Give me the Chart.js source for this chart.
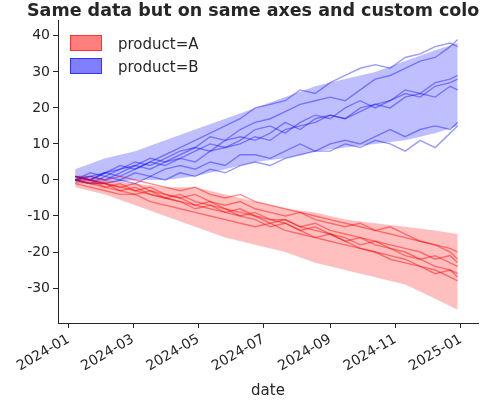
<!DOCTYPE html>
<html lang="en">
<head>
<meta charset="UTF-8">
<script src="https://cdn.jsdelivr.net/npm/chart.js"></script>
<style>
  body { margin: 0; background: #fff; font-family: "DejaVu Sans", sans-serif; }
  #wrap { position: relative; width: 480px; height: 400px; overflow: hidden; }
  #title { position: absolute; left: 27px; top: 0px; font-size: 17.5px; font-weight: bold; color: #262626; white-space: nowrap; }
  .leg { position: absolute; left: 70px; font-size: 15px; color: #262626; }
  .leg span { display: inline-block; width: 30px; height: 14px; vertical-align: -2px; margin-right: 16px; }
</style>
</head>
<body>
<div id="wrap">
  <canvas id="chart" width="480" height="400"></canvas>
  <div id="title">Same data but on same axes and custom colors</div>
  <div class="leg" style="top:35px"><span style="background:rgba(255,0,0,0.5);border:1px solid rgba(255,0,0,0.6)"></span>product=A</div>
  <div class="leg" style="top:58px"><span style="background:rgba(0,0,255,0.5);border:1px solid rgba(0,0,255,0.6)"></span>product=B</div>
</div>
<script>
// days since 2024-01-01
var lineDays = [6,20,34,48,62,76,90,104,118,132,146,160,174,188,202,216,230,244,258,272,286,300,314,328,342,356,363];
var bandDays = [6,34,62,90,118,146,174,202,230,258,286,314,342,363];

var linesB = [
  [0,1,2,4,3,5,7,9,11,13,15,17,20,21,22,25,24,27,29,31,32,31,34,35,37,38,37],
  [1,0,2,3,5,4,6,8,9,12,11,14,16,17,19,21,22,23,22,25,28,29,31,33,34,37,39],
  [0,2,1,3,4,6,5,7,9,8,11,12,11,13,16,14,17,18,17,20,21,22,25,24,27,28,29],
  [1,0,2,1,3,5,4,6,8,10,9,11,14,15,13,16,18,17,20,22,20,22,24,23,26,27,28],
  [0,1,0,2,4,3,5,6,5,8,9,10,12,11,14,15,16,18,17,19,21,20,23,24,23,26,25],
  [0,-1,1,0,2,1,3,4,3,5,4,7,7,6,8,10,8,10,11,10,12,14,12,14,15,14,16],
  [1,0,-1,0,-1,1,0,2,1,3,2,4,5,4,6,7,8,8,10,9,11,10,8,11,9,13,15]
];
var linesA = [
  [0,-1,-1,-2,-3,-2,-4,-5,-4,-6,-7,-6,-8,-9,-10,-9,-11,-12,-13,-12,-14,-15,-16,-17,-18,-19,-20],
  [1,0,-1,-2,-1,-3,-4,-5,-7,-6,-8,-9,-10,-11,-11,-13,-12,-14,-15,-16,-17,-18,-19,-20,-22,-21,-23],
  [0,-1,-2,-1,-3,-4,-5,-4,-6,-7,-8,-10,-9,-11,-12,-14,-13,-15,-16,-18,-17,-19,-20,-22,-21,-23,-24],
  [0,0,-2,-3,-4,-3,-5,-6,-7,-8,-9,-8,-10,-12,-11,-13,-14,-15,-17,-16,-18,-19,-21,-22,-24,-25,-26],
  [-1,-2,-3,-4,-4,-6,-7,-8,-9,-10,-11,-12,-13,-12,-14,-15,-16,-17,-18,-19,-20,-22,-23,-24,-26,-25,-27],
  [0,-1,-1,-3,-2,-4,-5,-6,-8,-7,-9,-10,-11,-13,-12,-14,-16,-15,-17,-19,-20,-21,-22,-24,-25,-27,-28],
  [1,1,0,1,0,-1,-2,-3,-2,-4,-5,-4,-6,-7,-8,-9,-10,-11,-12,-13,-14,-13,-15,-17,-18,-20,-22]
];
var bandBUpper = [3,6,8,11,14,17,20,23,26,28,30,33,36,38];
var bandBLower = [-1,-1,0,0,1,3,5,6,8,9,10,11,13,15];
var bandAUpper = [1,0,-1,-2,-2,-4,-6,-8,-9,-11,-12,-13,-14,-15];
var bandALower = [-2,-4,-7,-10,-13,-16,-18,-20,-23,-25,-27,-29,-33,-36];

var tickDays = [0,60,121,182,244,305,366];
var tickLabels = ['2024-01','2024-03','2024-05','2024-07','2024-09','2024-11','2025-01'];

function pts(days, vals) { return vals.map(function(v, i) { return {x: days[i], y: v}; }); }

var datasets = [];
function band(lower, upper, rgb) {
  datasets.push({ data: pts(bandDays, lower), borderWidth: 0, pointRadius: 0, fill: false, tension: 0 });
  datasets.push({ data: pts(bandDays, upper), borderWidth: 0, pointRadius: 0, fill: '-1', backgroundColor: 'rgba(' + rgb + ',0.25)', tension: 0 });
}
band(bandALower, bandAUpper, '255,0,0');
band(bandBLower, bandBUpper, '0,0,255');
linesA.forEach(function(l) { datasets.push({ data: pts(lineDays, l), borderColor: 'rgba(255,0,0,0.45)', borderWidth: 1.4, pointRadius: 0, fill: false }); });
linesB.forEach(function(l) { datasets.push({ data: pts(lineDays, l), borderColor: 'rgba(0,0,255,0.4)', borderWidth: 1.4, pointRadius: 0, fill: false }); });

var tickFont = { family: 'DejaVu Sans', size: 14 };
new Chart(document.getElementById('chart'), {
  type: 'line',
  data: { datasets: datasets },
  options: {
    responsive: false, animation: false,
    layout: { padding: { top: 20, right: 2, left: 0, bottom: 0 } },
    plugins: { legend: { display: false }, tooltip: { enabled: false } },
    scales: {
      x: {
        type: 'linear', min: -10, max: 382,
        afterBuildTicks: function(ax) { ax.ticks = tickDays.map(function(d) { return {value: d}; }); },
        afterFit: function(ax) { ax.height = 77; },
        ticks: { font: tickFont, color: '#262626', maxRotation: 30, minRotation: 30, autoSkip: false,
          callback: function(v) { return tickLabels[tickDays.indexOf(v)]; } },
        grid: { drawOnChartArea: false, tickLength: 5, color: '#262626' },
        border: { color: '#262626' },
        title: { display: true, text: 'date', font: { family: 'DejaVu Sans', size: 15 }, color: '#262626', padding: 0 }
      },
      y: {
        min: -39.7, max: 44.4,
        afterBuildTicks: function(ax) { ax.ticks = [-30,-20,-10,0,10,20,30,40].map(function(v) { return {value: v}; }); },
        afterFit: function(ax) { ax.width = 58; },
        ticks: { font: tickFont, color: '#262626' },
        grid: { drawOnChartArea: false, tickLength: 5, color: '#262626' },
        border: { color: '#262626' }
      }
    }
  }
});
</script>
</body>
</html>
